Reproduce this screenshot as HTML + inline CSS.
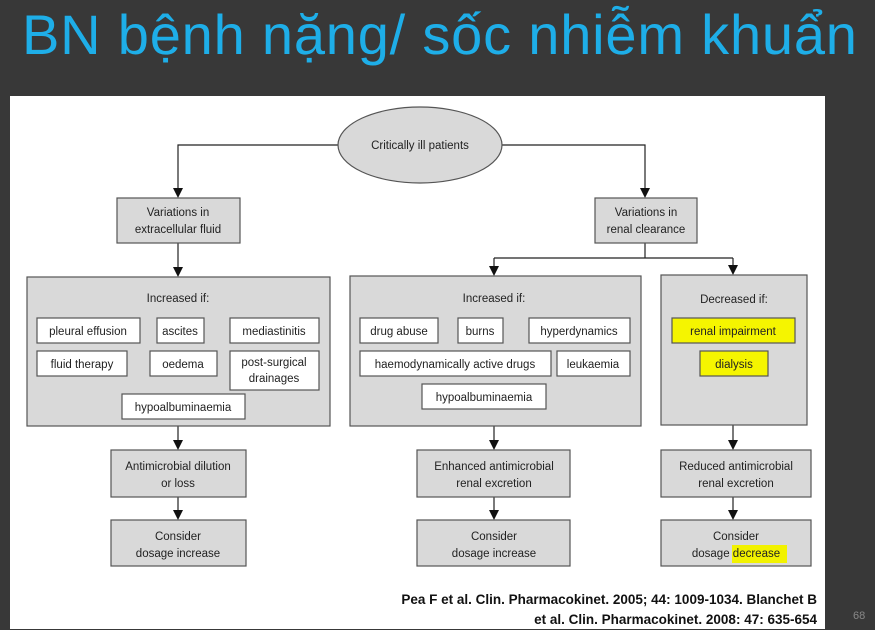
<!DOCTYPE html>
<html><head><meta charset="utf-8"><style>
html,body{margin:0;padding:0;}
body{width:875px;height:629px;background:#383838;position:relative;overflow:hidden;font-family:"Liberation Sans",sans-serif;}
.title{position:absolute;left:22px;top:2px;font-size:56px;letter-spacing:0.8px;color:#1eaee8;font-family:"Liberation Sans","Noto Sans CJK SC",sans-serif;white-space:nowrap;}
.panel{position:absolute;left:10px;top:96px;width:815px;height:533px;background:#fff;}
.pg{position:absolute;left:853px;top:610px;color:#888;font-size:11px;}
svg{position:absolute;left:0;top:0;}
svg text{font-family:"Liberation Sans",sans-serif;font-size:11.5px;fill:#222;text-anchor:middle;}
.cite{position:absolute;right:58px;top:590px;text-align:right;font-weight:bold;font-size:13.5px;color:#111;line-height:20px;}
</style></head><body>
<div class="title">BN bệnh nặng/ sốc nhiễm khuẩn</div>
<div class="panel"></div>
<div class="pg">68</div>
<svg width="875" height="629" viewBox="0 0 875 629">
<g stroke="#222" stroke-width="1.2" fill="none">
<path d="M338,145 H178 V190"/>
<path d="M502,145 H645 V190"/>
<path d="M178,243 V269"/>
<path d="M645,243 V258"/>
<path d="M494,258 H733"/>
<path d="M494,258 V268"/>
<path d="M733,258 V267"/>
<path d="M178,426 V442"/>
<path d="M494,426 V442"/>
<path d="M733,425 V442"/>
<path d="M178,497 V512"/>
<path d="M494,497 V512"/>
<path d="M733,497 V512"/>
</g>
<g fill="#111">
<polygon points="173,188 183,188 178,198"/>
<polygon points="640,188 650,188 645,198"/>
<polygon points="173,267 183,267 178,277"/>
<polygon points="489,266 499,266 494,276"/>
<polygon points="728,265 738,265 733,275"/>
<polygon points="173,440 183,440 178,450"/>
<polygon points="489,440 499,440 494,450"/>
<polygon points="728,440 738,440 733,450"/>
<polygon points="173,510 183,510 178,520"/>
<polygon points="489,510 499,510 494,520"/>
<polygon points="728,510 738,510 733,520"/>
</g>
<g stroke="#555" stroke-width="1.2" fill="#d9d9d9">
<ellipse cx="420" cy="145" rx="82" ry="38"/>
<rect x="117" y="198" width="123" height="45"/>
<rect x="595" y="198" width="102" height="45"/>
<rect x="27" y="277" width="303" height="149"/>
<rect x="350" y="276" width="291" height="150"/>
<rect x="661" y="275" width="146" height="150"/>
<rect x="111" y="450" width="135" height="47"/>
<rect x="417" y="450" width="153" height="47"/>
<rect x="661" y="450" width="150" height="47"/>
<rect x="111" y="520" width="135" height="46"/>
<rect x="417" y="520" width="153" height="46"/>
<rect x="661" y="520" width="150" height="46"/>
</g>
<g stroke="#555" stroke-width="1.2" fill="#fff">
<rect x="37" y="318" width="103" height="25"/>
<rect x="157" y="318" width="47" height="25"/>
<rect x="230" y="318" width="89" height="25"/>
<rect x="37" y="351" width="90" height="25"/>
<rect x="150" y="351" width="67" height="25"/>
<rect x="230" y="351" width="89" height="39"/>
<rect x="122" y="394" width="123" height="25"/>
<rect x="360" y="318" width="78" height="25"/>
<rect x="458" y="318" width="45" height="25"/>
<rect x="529" y="318" width="101" height="25"/>
<rect x="360" y="351" width="191" height="25"/>
<rect x="557" y="351" width="73" height="25"/>
<rect x="422" y="384" width="124" height="25"/>
<rect x="672" y="318" width="123" height="25" fill="#f5f500"/>
<rect x="700" y="351" width="68" height="25" fill="#f5f500"/>
</g>
<rect x="732" y="545" width="55" height="18" fill="#f2f200"/>
<text x="420" y="149">Critically ill patients</text>
<text x="178" y="216">Variations in</text><text x="178" y="233">extracellular fluid</text>
<text x="646" y="216">Variations in</text><text x="646" y="233">renal clearance</text>
<text x="178" y="302">Increased if:</text>
<text x="494" y="302">Increased if:</text>
<text x="734" y="303">Decreased if:</text>
<text x="88" y="335">pleural effusion</text>
<text x="180" y="335">ascites</text>
<text x="274" y="335">mediastinitis</text>
<text x="82" y="368">fluid therapy</text>
<text x="183" y="368">oedema</text>
<text x="274" y="366">post-surgical</text><text x="274" y="382">drainages</text>
<text x="183" y="411">hypoalbuminaemia</text>
<text x="399" y="335">drug abuse</text>
<text x="480" y="335">burns</text>
<text x="579" y="335">hyperdynamics</text>
<text x="455" y="368">haemodynamically active drugs</text>
<text x="593" y="368">leukaemia</text>
<text x="484" y="401">hypoalbuminaemia</text>
<text x="733" y="335">renal impairment</text>
<text x="734" y="368">dialysis</text>
<text x="178" y="470">Antimicrobial dilution</text><text x="178" y="487">or loss</text>
<text x="494" y="470">Enhanced antimicrobial</text><text x="494" y="487">renal excretion</text>
<text x="736" y="470">Reduced antimicrobial</text><text x="736" y="487">renal excretion</text>
<text x="178" y="540">Consider</text><text x="178" y="557">dosage increase</text>
<text x="494" y="540">Consider</text><text x="494" y="557">dosage increase</text>
<text x="736" y="540">Consider</text><text x="736" y="557">dosage decrease</text>
</svg>
<div class="cite">Pea F et al. Clin. Pharmacokinet. 2005; 44: 1009-1034. Blanchet B<br>et al. Clin. Pharmacokinet. 2008: 47: 635-654</div>
</body></html>
